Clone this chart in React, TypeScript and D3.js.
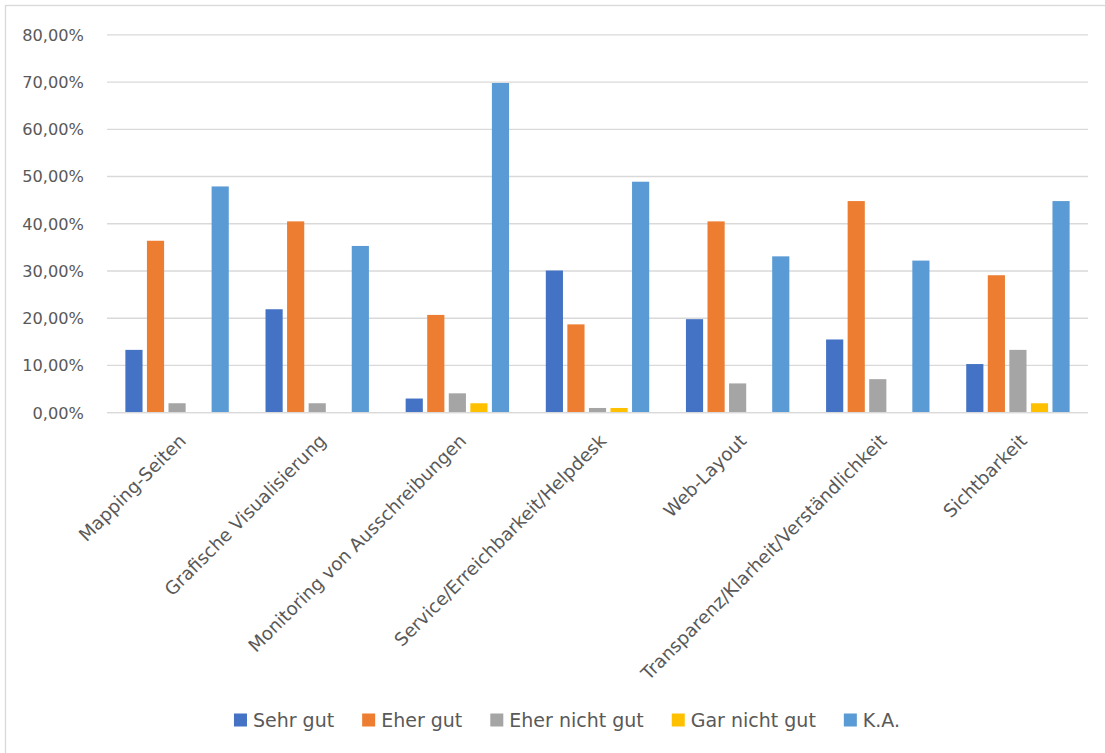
import React, { useEffect, useRef } from "react";
import * as d3 from "d3";

const categories = [
  "Mapping-Seiten",
  "Grafische Visualisierung",
  "Monitoring von Ausschreibungen",
  "Service/Erreichbarkeit/Helpdesk",
  "Web-Layout",
  "Transparenz/Klarheit/Verständlichkeit",
  "Sichtbarkeit",
];
const seriesNames = ["Sehr gut", "Eher gut", "Eher nicht gut", "Gar nicht gut", "K.A."];
const sehrGut = [13.3, 21.9, 3.0, 30.1, 19.8, 15.5, 10.3];
const eherGut = [36.4, 40.5, 20.7, 18.7, 40.5, 44.8, 29.1];
const eherNichtGut = [2.0, 2.0, 4.1, 1.0, 6.2, 7.1, 13.3];
const garNichtGut = [0, 0, 2.0, 1.0, 0, 0, 2.0];
const ka = [47.9, 35.3, 69.8, 48.9, 33.1, 32.2, 44.8];
const yTicks = [0, 10, 20, 30, 40, 50, 60, 70, 80];
const colors = ["#4472C4", "#ED7D31", "#A5A5A5", "#FFC000", "#5B9BD5"];

const W = 1105;
const H = 753;
const FONT = "'DejaVu Sans', sans-serif";
const TEXT = "#595959";

export default function App() {
  const ref = useRef<SVGSVGElement | null>(null);

  useEffect(() => {
    const svg = d3.select(ref.current);
    svg.selectAll("*").remove();
    const values = [sehrGut, eherGut, eherNichtGut, garNichtGut, ka];

    svg.append("rect").attr("x", 0).attr("y", 0).attr("width", W).attr("height", H).attr("fill", "#fff");
    svg
      .append("rect")
      .attr("x", 5.5)
      .attr("y", 5.5)
      .attr("width", W + 20)
      .attr("height", H + 20)
      .attr("fill", "none")
      .attr("stroke", "#d9d9d9")
      .attr("stroke-width", 1.3);

    const y = d3.scaleLinear().domain([0, 80]).range([412.7, 34.8]);
    const x = d3
      .scaleBand<string>()
      .domain(categories)
      .range([107, 1088])
      .paddingInner(1.5 / 6.5)
      .paddingOuter(0.75 / 6.5);
    const xs = d3
      .scaleBand<number>()
      .domain(d3.range(seriesNames.length))
      .range([0, x.bandwidth()]);

    // gridlines
    svg
      .append("g")
      .selectAll("line")
      .data(yTicks)
      .join("line")
      .attr("x1", 107)
      .attr("x2", 1088)
      .attr("y1", (d) => y(d))
      .attr("y2", (d) => y(d))
      .attr("stroke", "#d9d9d9")
      .attr("stroke-width", 1.3);

    // y tick labels
    const fmt = (d: number) => d.toFixed(2).replace(".", ",") + "%";
    svg
      .append("g")
      .selectAll("text")
      .data(yTicks)
      .join("text")
      .attr("x", 84)
      .attr("y", (d) => y(d) + 5.9)
      .attr("text-anchor", "end")
      .attr("font-family", FONT)
      .attr("font-size", 16.2)
      .attr("fill", TEXT)
      .text(fmt);

    // bars
    const inset = 2.2;
    values.forEach((vals, si) => {
      svg
        .append("g")
        .selectAll("rect")
        .data(vals.map((v, i) => ({ v, c: categories[i] })))
        .join("rect")
        .attr("x", (d) => (x(d.c) as number) + (xs(si) as number) + inset)
        .attr("width", xs.bandwidth() - inset * 2)
        .attr("y", (d) => y(d.v))
        .attr("height", (d) => Math.max(0, y(0) - y(d.v)))
        .attr("fill", colors[si]);
    });

    // baseline axis
    svg
      .append("line")
      .attr("x1", 107)
      .attr("x2", 1088)
      .attr("y1", y(0))
      .attr("y2", y(0))
      .attr("stroke", "#d9d9d9")
      .attr("stroke-width", 1.3);

    // category labels
    svg
      .append("g")
      .selectAll("text")
      .data(categories)
      .join("text")
      .attr(
        "transform",
        (d) => `translate(${(x(d) as number) + x.bandwidth() / 2 + 10},${442}) rotate(-45)`
      )
      .attr("text-anchor", "end")
      .attr("font-family", FONT)
      .attr("font-size", 18.2)
      .attr("fill", TEXT)
      .text((d) => d);

    // legend
    const lg = svg.append("g");
    const items = seriesNames.map((name, i) => {
      const g = lg.append("g");
      g.append("rect").attr("x", 0).attr("y", -6.5).attr("width", 13).attr("height", 13).attr("fill", colors[i]);
      const t = g
        .append("text")
        .attr("x", 19)
        .attr("y", 6.8)
        .attr("font-family", FONT)
        .attr("font-size", 19)
        .attr("fill", TEXT)
        .text(name);
      const w = 19 + (t.node() as SVGTextElement).getComputedTextLength();
      return { g, w };
    });
    const gap = 28;
    const total = d3.sum(items, (d) => d.w) + gap * (items.length - 1);
    let cx = 567 - total / 2;
    items.forEach((it) => {
      it.g.attr("transform", `translate(${cx},720)`);
      cx += it.w + gap;
    });
  }, []);

  return (
    <svg
      ref={ref}
      width={W}
      height={H}
      style={{ position: "absolute", left: 0, top: 0, display: "block" }}
    />
  );
}
